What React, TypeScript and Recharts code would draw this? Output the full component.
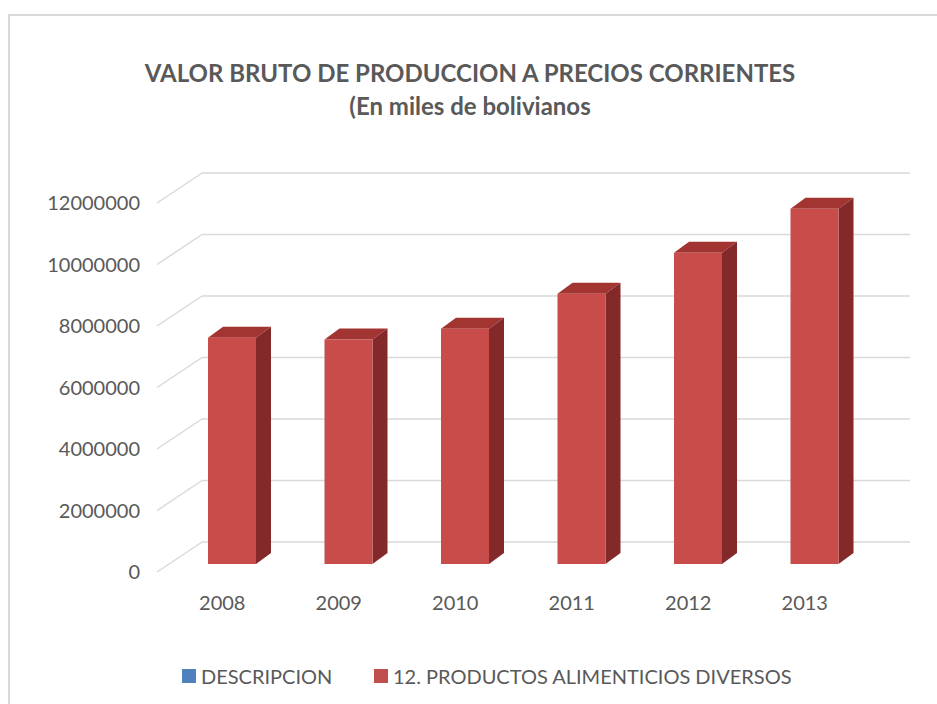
import { BarChart, Bar, XAxis, YAxis, CartesianGrid } from 'recharts'

const years = ['2008', '2009', '2010', '2011', '2012', '2013']
const productos = [7360000, 7300000, 7650000, 8790000, 10120000, 11550000]
const yTicks = [0, 2000000, 4000000, 6000000, 8000000, 10000000, 12000000]
const legendNames = ['DESCRIPCION', '12. PRODUCTOS ALIMENTICIOS DIVERSOS']
const legendColors = ['#4f81bd', '#c0504d']

const data = years.map((year, i) => ({ year, productos: productos[i] }))

const FONT = 'Lato, "Open Sans", sans-serif'
const GREY = '#595959'

// fake 3D bar: front face + top + right side
function Bar3D(props: any) {
  const { x, y, width, height } = props
  const fx = x + 10
  const fy = y - 8
  const dx = 15
  const dy = 11
  return (
    <g>
      <path
        d={`M${fx},${fy} L${fx + dx},${fy - dy} L${fx + width + dx},${fy - dy} L${fx + width},${fy} Z`}
        fill="#a23432"
      />
      <path
        d={`M${fx + width},${fy} L${fx + width + dx},${fy - dy} L${fx + width + dx},${fy + height - dy} L${fx + width},${fy + height} Z`}
        fill="#84292a"
      />
      <rect x={fx} y={fy} width={width} height={height} fill="#c84d4a" />
    </g>
  )
}

// back wall gridline with the diagonal on the side wall
function WallLine(props: any) {
  const { x1, x2, y1 } = props
  return (
    <g>
      <line x1={x1 - 7} y1={y1} x2={x1 + 38} y2={y1 - 30} stroke="#d9d9d9" strokeWidth={1.5} />
      <line x1={x1 + 38} y1={y1 - 30} x2={x2 + 47} y2={y1 - 30} stroke="#d9d9d9" strokeWidth={1.5} />
    </g>
  )
}

export default function App() {
  return (
    <div style={{ position: 'absolute', left: 0, top: 0, width: 937, height: 704, overflow: 'hidden', background: '#fff', fontFamily: FONT }}>
      <div style={{ position: 'absolute', left: 8, top: 14, width: 960, height: 720, border: '2px solid #d9d9d9' }} />
      <div style={{ position: 'absolute', left: 0, width: 940, top: 56, textAlign: 'center', color: GREY, fontWeight: 700, fontSize: 24, lineHeight: '33px' }}>
        VALOR BRUTO DE PRODUCCION A PRECIOS CORRIENTES
        <br />
        (En miles de bolivianos
      </div>
      <div style={{ position: 'absolute', top: 0, left: 0 }}>
        <BarChart width={937} height={704} data={data} margin={{ top: 203, right: 74, bottom: 102, left: 64 }}>
          <CartesianGrid vertical={false} horizontal={WallLine} />
          <XAxis
            dataKey="year"
            height={30}
            axisLine={false}
            tickLine={false}
            tickSize={0}
            tickMargin={24}
            tick={{ fill: GREY, fontSize: 20, fontFamily: FONT }}
          />
          <YAxis
            width={100}
            domain={[0, 12000000]}
            ticks={yTicks}
            axisLine={false}
            tickLine={false}
            tickSize={0}
            tickMargin={24}
            tick={{ fill: GREY, fontSize: 20, fontFamily: FONT }}
          />
          <Bar dataKey="productos" barSize={48} shape={Bar3D} isAnimationActive={false} />
        </BarChart>
      </div>
      <div style={{ position: 'absolute', top: 664, left: 0, width: 937, height: 24 }}>
        {legendNames.map((name, i) => (
          <div
            key={name}
            style={{ position: 'absolute', left: i === 0 ? 182 : 374, top: 0, display: 'flex', alignItems: 'center', color: GREY, fontSize: 20 }}
          >
            <span style={{ display: 'inline-block', width: 14, height: 14, background: legendColors[i], marginRight: 5 }} />
            {name}
          </div>
        ))}
      </div>
    </div>
  )
}
